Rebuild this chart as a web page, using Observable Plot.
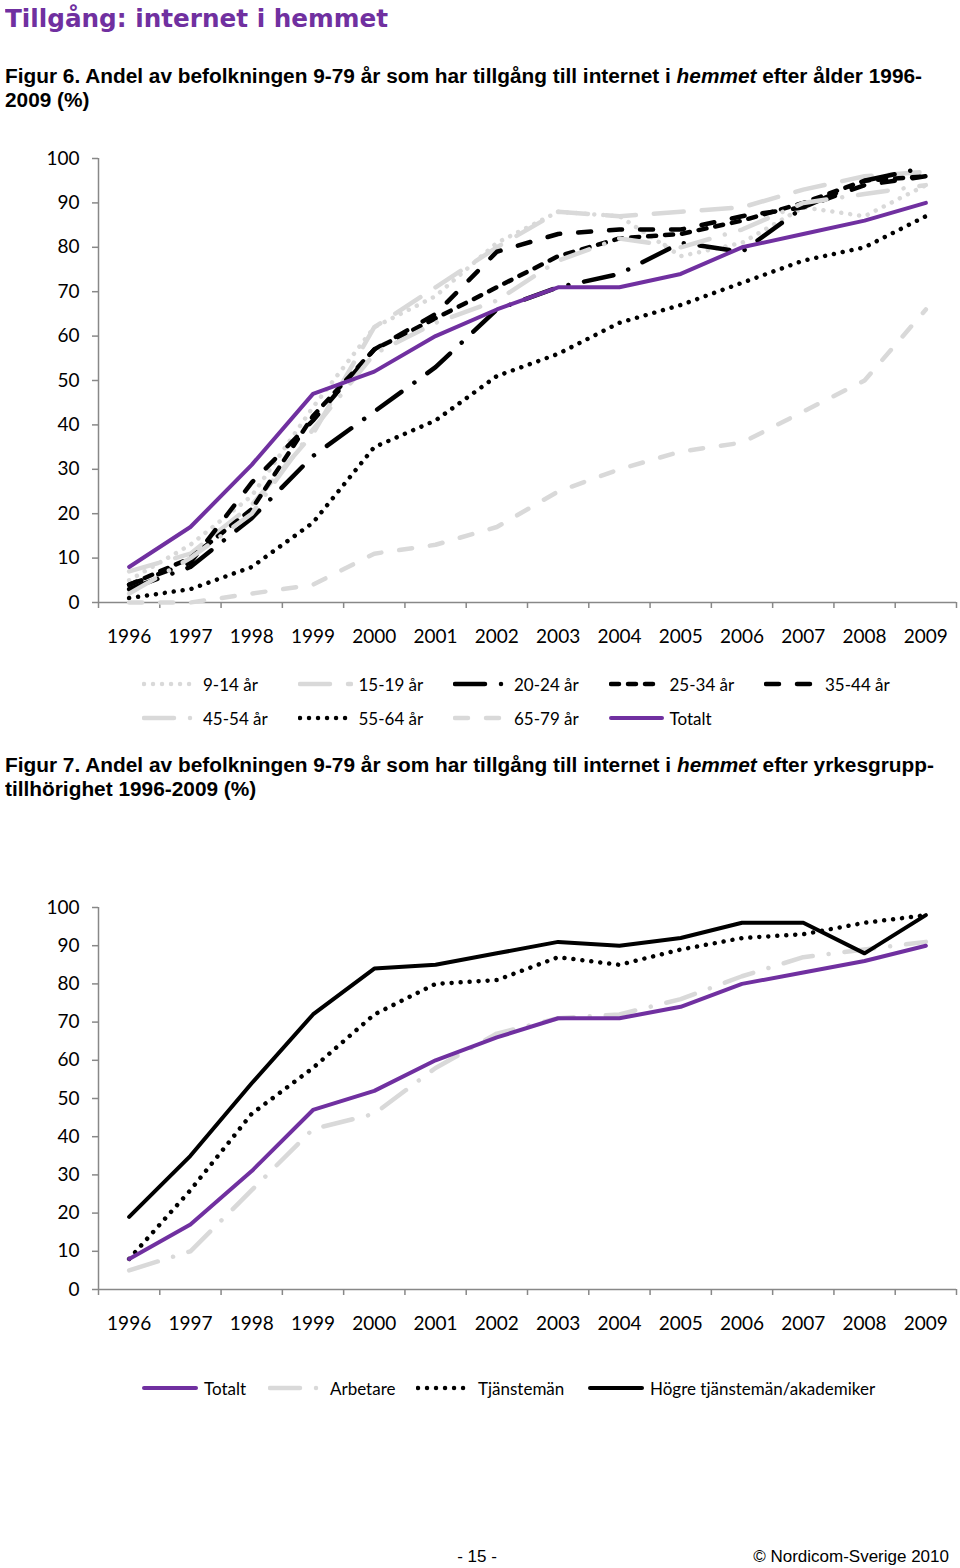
<!DOCTYPE html>
<html lang="sv">
<head>
<meta charset="utf-8">
<script src="https://cdn.jsdelivr.net/npm/d3@7"></script>
<script src="https://cdn.jsdelivr.net/npm/@observablehq/plot@0.6"></script>
<style>
html,body{margin:0;padding:0;background:#fff;}
body{width:960px;height:1568px;position:relative;overflow:hidden;font-family:"Liberation Sans",Arial,sans-serif;color:#000;}
.abs{position:absolute;white-space:nowrap;}
#title{left:5px;top:4px;font-family:"DejaVu Sans",sans-serif;font-weight:bold;font-size:25px;color:#7030a0;transform-origin:0 0;}
.cap{left:5px;font-weight:bold;font-size:20px;line-height:24px;transform-origin:0 0;}
.cap div{white-space:nowrap;}
.chart{position:absolute;left:0;}
.leg{position:absolute;height:20px;display:flex;align-items:center;font-family:Lato,sans-serif;font-size:17px;white-space:nowrap;}
.leg svg{margin-right:6px;flex:none;}
.foot{font-size:17px;top:1547px;}
</style>
</head>
<body>
<div id="title" class="abs">Tillgång: internet i hemmet</div>
<div id="cap6" class="abs cap" style="top:64px">
  <div>Figur 6. Andel av befolkningen 9-79 år som har tillgång till internet i <i>hemmet</i> efter ålder 1996-</div>
  <div>2009 (%)</div>
</div>
<div id="chart1" class="chart" style="top:140px"></div>
<div id="legend1"></div>
<div id="cap7" class="abs cap" style="top:753px">
  <div>Figur 7. Andel av befolkningen 9-79 år som har tillgång till internet i <i>hemmet</i> efter yrkesgrupp-</div>
  <div>tillhörighet 1996-2009 (%)</div>
</div>
<div id="chart2" class="chart" style="top:880px"></div>
<div id="legend2"></div>
<div id="page" class="abs foot">- 15 -</div>
<div id="copy" class="abs foot">© Nordicom-Sverige 2010</div>
<script>
// ---------- data ----------
const years = [1996, 1997, 1998, 1999, 2000, 2001, 2002, 2003, 2004, 2005, 2006, 2007, 2008, 2009];
const yTicks = [0, 10, 20, 30, 40, 50, 60, 70, 80, 90, 100];

// Figur 6: ålder (%)
const age9_14  = [5, 13, 24, 44, 62, 69, 81, 88, 87, 78, 81, 89, 87, 94];
const age15_19 = [7, 11, 22, 38, 62, 71, 80, 88, 87, 88, 89, 93, 96, 97];
const age20_24 = [3, 8, 19, 33, 43, 53, 66, 71, 74, 81, 79, 89, 95, 98];
const age25_34 = [4, 10, 21, 42, 57, 64, 71, 78, 82, 83, 86, 90, 95, 96];
const age35_44 = [4, 9, 27, 41, 57, 65, 79, 83, 84, 84, 87, 89, 94, 96];
const age45_54 = [2, 10, 20, 39, 56, 63, 68, 77, 82, 80, 84, 90, 92, 94];
const age55_64 = [1, 3, 8, 18, 35, 41, 51, 56, 63, 67, 72, 77, 80, 87];
const age65_79 = [0, 0, 2, 4, 11, 13, 17, 25, 30, 34, 36, 43, 50, 66];
const totalt   = [8, 17, 31, 47, 52, 60, 66, 71, 71, 74, 80, 83, 86, 90];

// Figur 7: yrkesgrupp (%)
const arbetare   = [5, 10, 26, 42, 46, 58, 67, 71, 72, 76, 82, 87, 89, 91];
const tjanstemän = [8, 26, 46, 58, 72, 80, 81, 87, 85, 89, 92, 93, 96, 98];
const hogreTjm   = [19, 35, 54, 72, 84, 85, 88, 91, 90, 92, 96, 96, 88, 98];

const ageNames = ["9-14 år", "15-19 år", "20-24 år", "25-34 år", "35-44 år", "45-54 år", "55-64 år", "65-79 år", "Totalt"];
const occNames = ["Totalt", "Arbetare", "Tjänstemän", "Högre tjänstemän/akademiker"];

// ---------- styles ----------
const GRAY = "#d9d9d9", BLACK = "#000000", PURPLE = "#7030a0", AXIS = "#888888";
const W = 4.5;
const ST = {
  grayDot:     {stroke: GRAY,  strokeWidth: W, strokeDasharray: "0.01 9"},
  grayLgDash:  {stroke: GRAY,  strokeWidth: W, strokeDasharray: "30 18"},
  blackLgDashDot: {stroke: BLACK, strokeWidth: W, strokeDasharray: "30 16 0.01 16"},
  blackSysDash:{stroke: BLACK, strokeWidth: W, strokeDasharray: "8 9"},
  blackDash:   {stroke: BLACK, strokeWidth: W, strokeDasharray: "13 18"},
  grayLgDashDot: {stroke: GRAY, strokeWidth: W, strokeDasharray: "30 16 0.01 16"},
  blackDot:    {stroke: BLACK, strokeWidth: W, strokeDasharray: "0.01 9"},
  grayDash:    {stroke: GRAY,  strokeWidth: W, strokeDasharray: "13 18"},
  purple:      {stroke: PURPLE, strokeWidth: 4},
  blackSolid:  {stroke: BLACK, strokeWidth: 4}
};

const ageSeries = [
  {name: ageNames[0], values: age9_14,  st: ST.grayDot},
  {name: ageNames[1], values: age15_19, st: ST.grayLgDash},
  {name: ageNames[2], values: age20_24, st: ST.blackLgDashDot},
  {name: ageNames[3], values: age25_34, st: ST.blackSysDash},
  {name: ageNames[4], values: age35_44, st: ST.blackDash},
  {name: ageNames[5], values: age45_54, st: ST.grayLgDashDot},
  {name: ageNames[6], values: age55_64, st: ST.blackDot},
  {name: ageNames[7], values: age65_79, st: ST.grayDash},
  {name: ageNames[8], values: totalt,   st: ST.purple}
];
const occSeries = [
  {name: occNames[0], values: totalt,     st: ST.purple},
  {name: occNames[1], values: arbetare,   st: ST.grayLgDashDot},
  {name: occNames[2], values: tjanstemän, st: ST.blackDot},
  {name: occNames[3], values: hogreTjm,   st: ST.blackSolid}
];
const occDrawOrder = [1, 2, 3, 0];

function makeChart(series, order, plotHeight, marginTop) {
  const marginBottom = 50;
  const x0 = years[0] - 0.5, x1 = years[years.length - 1] + 0.5;
  const bounds = d3.range(years.length + 1).map(i => x0 + i);
  const lines = order.map(k => {
    const s = series[k];
    return Plot.line(years, {
      x: d => d, y: (d, i) => s.values[i],
      ...s.st, strokeLinecap: "round", strokeLinejoin: "round", fill: "none"
    });
  });
  return Plot.plot({
    width: 960,
    height: marginTop + plotHeight + marginBottom,
    marginLeft: 98, marginRight: 4, marginTop, marginBottom,
    style: {fontFamily: "Lato, sans-serif", background: "transparent", color: "#000", overflow: "visible"},
    x: {type: "linear", domain: [x0, x1], axis: null},
    y: {domain: [0, 100], axis: null},
    marks: [
      Plot.ruleX([x0], {stroke: AXIS, strokeWidth: 1.5}),
      Plot.ruleY(yTicks, {y: d => d, x1: x0, x2: x0, insetLeft: -6, stroke: AXIS, strokeWidth: 1.5}),
      Plot.text(yTicks, {y: d => d, frameAnchor: "left", dx: -19, textAnchor: "end", text: d => String(d), fontSize: 19, fill: "#000"}),
      Plot.ruleY([0], {stroke: AXIS, strokeWidth: 1.5}),
      Plot.ruleX(bounds, {x: d => d, y1: 0, y2: 0, insetBottom: -6, stroke: AXIS, strokeWidth: 1.5}),
      Plot.text(years, {x: d => d, frameAnchor: "bottom", dy: 40, text: d => String(d), fontSize: 19, fill: "#000"}),
      ...lines
    ]
  });
}

document.getElementById("chart1").appendChild(makeChart(ageSeries, d3.range(ageSeries.length), 444, 18));
document.getElementById("chart2").appendChild(makeChart(occSeries, occDrawOrder, 382, 27));

// ---------- legends ----------
function legendItem(parent, s, left, centerY, sampleW) {
  const div = document.createElement("div");
  div.className = "leg";
  div.style.left = left + "px";
  div.style.top = (centerY - 10) + "px";
  const ns = "http://www.w3.org/2000/svg";
  const svg = document.createElementNS(ns, "svg");
  svg.setAttribute("width", sampleW); svg.setAttribute("height", 10);
  const ln = document.createElementNS(ns, "line");
  ln.setAttribute("x1", 2); ln.setAttribute("x2", sampleW - 2);
  ln.setAttribute("y1", 5); ln.setAttribute("y2", 5);
  ln.setAttribute("stroke", s.st.stroke);
  ln.setAttribute("stroke-width", s.st.strokeWidth);
  ln.setAttribute("stroke-linecap", "round");
  if (s.st.strokeDasharray) ln.setAttribute("stroke-dasharray", s.st.strokeDasharray);
  svg.appendChild(ln);
  div.appendChild(svg);
  const sp = document.createElement("span");
  sp.textContent = s.name;
  div.appendChild(sp);
  parent.appendChild(div);
}
const leg1 = document.getElementById("legend1");
ageSeries.forEach((s, i) => {
  const row = i < 5 ? 0 : 1, col = i < 5 ? i : i - 5;
  legendItem(leg1, s, 142 + 155.5 * col, row === 0 ? 684 : 718, 55);
});
const leg2 = document.getElementById("legend2");
const leg2Left = [142, 268, 416, 588];
occSeries.forEach((s, i) => legendItem(leg2, s, leg2Left[i], 1388, 56));

// ---------- fit text widths ----------
function fit(id, target) {
  const el = document.getElementById(id);
  const w = el.getBoundingClientRect().width;
  el.style.transform = `scaleX(${target / w})`;
}
fit("title", 383);
fit("cap6", 917);
fit("cap7", 929);
const pg = document.getElementById("page");
pg.style.left = (477 - pg.getBoundingClientRect().width / 2) + "px";
const cp = document.getElementById("copy");
cp.style.left = (949 - cp.getBoundingClientRect().width) + "px";
</script>
</body>
</html>
